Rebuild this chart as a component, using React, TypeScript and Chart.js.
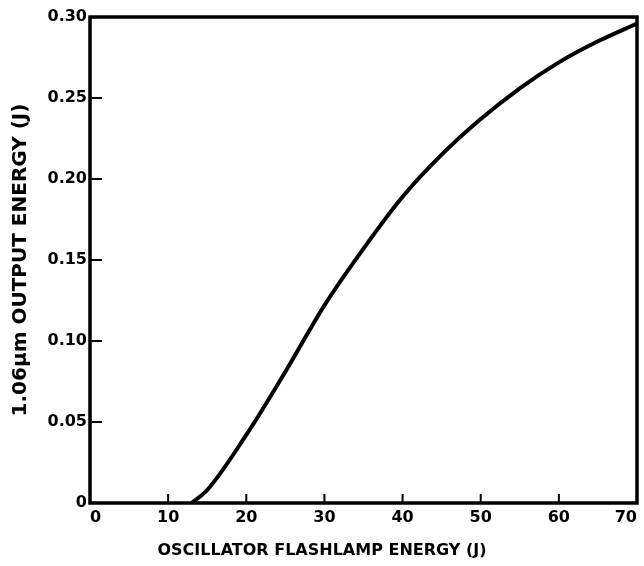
import React, { useEffect, useRef } from "react";
import { Chart, registerables } from "chart.js";

Chart.register(...registerables);

const flashlampEnergy = [13, 15, 20, 25, 30, 35, 40, 45, 50, 55, 60, 65, 70];
const outputEnergy = [0, 0.008, 0.042, 0.081, 0.122, 0.157, 0.189, 0.215, 0.237, 0.256, 0.272, 0.285, 0.296];
const xTicks = [0, 10, 20, 30, 40, 50, 60, 70];
const yTicks = [0, 0.05, 0.1, 0.15, 0.2, 0.25, 0.3];
const yTickLabels = ["0", "0.05", "0.10", "0.15", "0.20", "0.25", "0.30"];
const xTitle = "OSCILLATOR FLASHLAMP ENERGY (J)";
const yTitle = "1.06\u03bcm OUTPUT ENERGY (J)";

const FONT = "'DejaVu Sans', sans-serif";

const framePlugin = {
  id: "frame",
  afterDatasetsDraw(chart: any) {
    const { ctx, chartArea } = chart;
    const xs = chart.scales.x;
    const ys = chart.scales.y;
    ctx.save();
    ctx.strokeStyle = "#000";
    ctx.lineWidth = 3.5;
    ctx.strokeRect(chartArea.left, chartArea.top, chartArea.right - chartArea.left, chartArea.bottom - chartArea.top);
    ctx.lineWidth = 2;
    ctx.beginPath();
    for (const v of xTicks) {
      if (v === xTicks[0] || v === xTicks[xTicks.length - 1]) continue;
      const px = xs.getPixelForValue(v);
      ctx.moveTo(px, chartArea.bottom);
      ctx.lineTo(px, chartArea.bottom - 9);
    }
    for (const v of yTicks) {
      if (v === yTicks[0] || v === yTicks[yTicks.length - 1]) continue;
      const py = ys.getPixelForValue(v);
      ctx.moveTo(chartArea.left, py);
      ctx.lineTo(chartArea.left + 12, py);
    }
    ctx.stroke();
    // x-axis title (offset left as in the original figure)
    ctx.fillStyle = "#000";
    ctx.font = "bold 16px " + FONT;
    ctx.textAlign = "center";
    ctx.textBaseline = "middle";
    ctx.fillText(xTitle, 322, 551);
    ctx.restore();
  },
};

export default function App() {
  const ref = useRef<HTMLCanvasElement | null>(null);
  useEffect(() => {
    if (!ref.current) return;
    const chart = new Chart(ref.current, {
      type: "line",
      data: {
        datasets: [
          {
            data: flashlampEnergy.map((x, i) => ({ x, y: outputEnergy[i] })),
            borderColor: "#000",
            borderWidth: 4,
            pointRadius: 0,
            cubicInterpolationMode: "monotone",
            fill: false,
          },
        ],
      },
      options: {
        animation: false,
        responsive: true,
        maintainAspectRatio: false,
        layout: { padding: { top: 17, right: 7, left: 0, bottom: 0 } },
        plugins: { legend: { display: false }, tooltip: { enabled: false } },
        scales: {
          x: {
            type: "linear",
            min: 0,
            max: 70,
            afterBuildTicks: (s: any) => {
              s.ticks = xTicks.map((v) => ({ value: v }));
            },
            afterFit: (s: any) => {
              s.height = 63;
              s.paddingLeft = 0;
              s.paddingRight = 0;
            },
            grid: { display: false, drawTicks: false },
            border: { display: false },
            ticks: {
              color: "#000",
              padding: 5,
              maxRotation: 0,
              align: "inner",
              font: { family: FONT, size: 16, weight: "bold" },
              callback: (v: any) => String(v),
            },
          },
          y: {
            type: "linear",
            min: 0,
            max: 0.3,
            afterBuildTicks: (s: any) => {
              s.ticks = yTicks.map((v) => ({ value: v }));
            },
            afterFit: (s: any) => {
              s.width = 90;
              s.paddingTop = 0;
              s.paddingBottom = 0;
            },
            grid: { display: false, drawTicks: false },
            border: { display: false },
            ticks: {
              color: "#000",
              padding: 3,
              font: { family: FONT, size: 16, weight: "bold" },
              callback: (v: any) => {
                const i = yTicks.findIndex((t) => Math.abs(t - v) < 1e-9);
                return i >= 0 ? yTickLabels[i] : "";
              },
            },
            title: {
              display: true,
              text: yTitle,
              color: "#000",
              font: { family: FONT, size: 20, weight: "bold" },
              padding: { top: 9, bottom: 0 },
            },
          },
        },
      },
      plugins: [framePlugin],
    } as any);
    return () => chart.destroy();
  }, []);
  return (
    <div style={{ position: "fixed", left: 0, top: 0, width: 644, height: 566, background: "#fff" }}>
      <canvas ref={ref} />
    </div>
  );
}
